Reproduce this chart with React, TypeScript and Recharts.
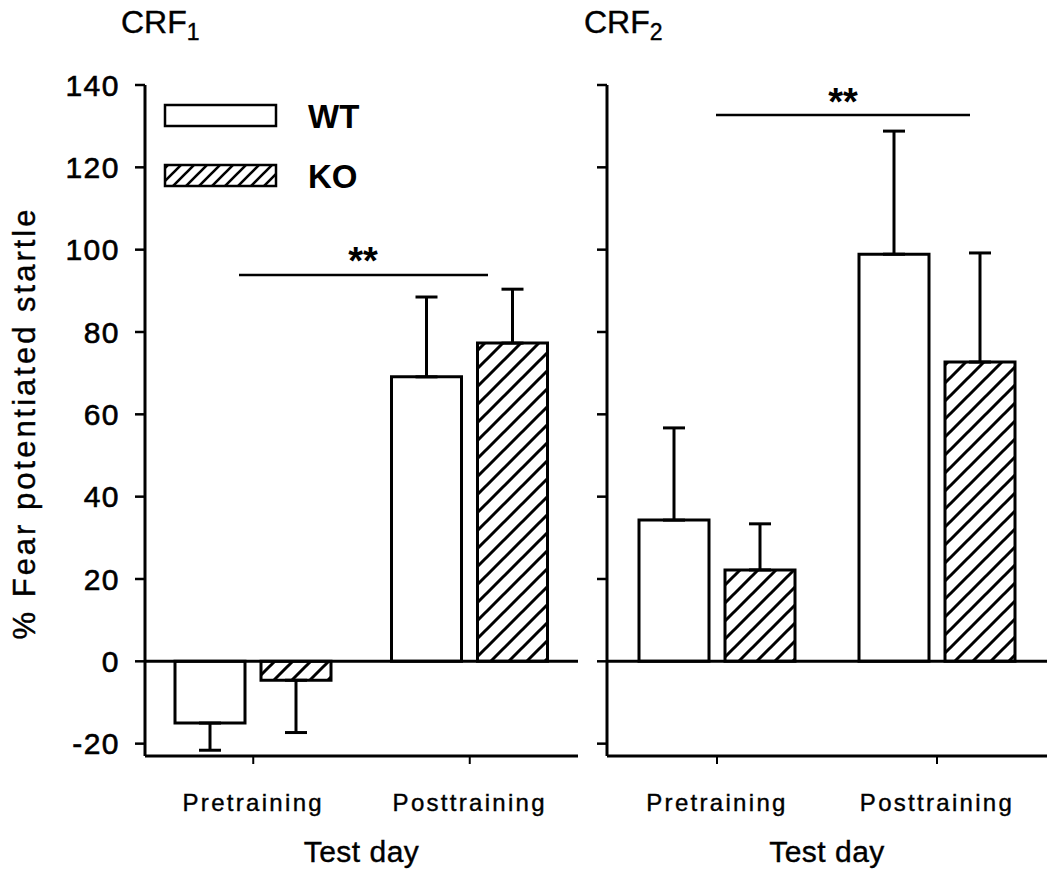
import React from 'react';
import { BarChart, Bar, XAxis, YAxis, ReferenceLine, ErrorBar, Legend } from 'recharts';

const categories = ['Pretraining', 'Posttraining'];
const seriesNames = ['WT', 'KO'];

// CRF1 panel
const crf1WT = [-15, 69.1];
const crf1KO = [-4.6, 77.3];
const crf1WTSem = [6.6, 19.4];
const crf1KOSem = [12.7, 13.1];

// CRF2 panel
const crf2WT = [34.3, 98.9];
const crf2KO = [22.2, 72.7];
const crf2WTSem = [22.4, 29.9];
const crf2KOSem = [11.2, 26.5];

const yTicks = [-20, 0, 20, 40, 60, 80, 100, 120, 140];
const yDomain = [-23, 140];

const FONT = '"Liberation Sans", Arial, Helvetica, sans-serif';

// error bars only go away from zero, like the original
const errOf = (v: number, s: number) => (v < 0 ? [s, 0] : [0, s]);

const buildRows = (wt: number[], ko: number[], wtSem: number[], koSem: number[]) =>
  categories.map((day, i) => ({
    day,
    wt: wt[i],
    ko: ko[i],
    wtErr: errOf(wt[i], wtSem[i]),
    koErr: errOf(ko[i], koSem[i]),
  }));

const crf1Rows = buildRows(crf1WT, crf1KO, crf1WTSem, crf1KOSem);
const crf2Rows = buildRows(crf2WT, crf2KO, crf2WTSem, crf2KOSem);

const HatchDefs = ({ id }: { id: string }) => (
  <defs>
    <pattern id={id} patternUnits="userSpaceOnUse" width={18} height={18}>
      <rect width={18} height={18} fill="#fff" />
      <path d="M0,18 L18,0 M-4.5,4.5 L4.5,-4.5 M13.5,22.5 L22.5,13.5" stroke="#000" strokeWidth={3} />
    </pattern>
  </defs>
);

const LegendBox = () => (
  <svg width={260} height={110}>
    <defs>
      <pattern id="hatchLegend" patternUnits="userSpaceOnUse" width={13} height={13}>
        <rect width={13} height={13} fill="#fff" />
        <path d="M0,13 L13,0 M-3.25,3.25 L3.25,-3.25 M9.75,16.25 L16.25,9.75" stroke="#000" strokeWidth={2.6} />
      </pattern>
    </defs>
    {seriesNames.map((name, i) => (
      <g key={name}>
        <rect x={5} y={10 + i * 60} width={111} height={21} fill={i === 0 ? '#fff' : 'url(#hatchLegend)'} stroke="#000" strokeWidth={2.5} />
        <text x={148} y={33 + i * 60} fontFamily={FONT} fontSize={33} fontWeight="bold" fill="#000">
          {name}
        </text>
      </g>
    ))}
  </svg>
);

const YTitle = () => (
  <text
    x={35}
    y={423}
    transform="rotate(-90, 35, 423)"
    textAnchor="middle"
    fontFamily={FONT}
    fontSize={31}
    letterSpacing={3}
    fill="#000"
    stroke="#000"
    strokeWidth={0.4}
  >
    % Fear potentiated startle
  </text>
);

const XTitle = (props: any) => {
  const vb = props.viewBox || {};
  return (
    <text x={vb.x + vb.width / 2} y={862} textAnchor="middle" fontFamily={FONT} fontSize={30} letterSpacing={0.5} fill="#000" stroke="#000" strokeWidth={0.4}>
      Test day
    </text>
  );
};

const Panel = ({ rows, hatchId, width, yWidth, right, showLabels }: any) => (
  <BarChart
    width={width}
    height={875}
    data={rows}
    margin={{ top: 85, right, bottom: 0, left: 0 }}
    barSize={70}
    barGap={16}
  >
    <HatchDefs id={hatchId} />
    <XAxis
      dataKey="day"
      height={119}
      axisLine={{ stroke: '#000', strokeWidth: 3 }}
      tickLine={{ stroke: '#000', strokeWidth: 2 }}
      tickSize={8}
      tickMargin={30}
      tick={{ fill: '#000', stroke: '#000', strokeWidth: 0.4, fontSize: 24, fontFamily: FONT, letterSpacing: 2.3 }}
      label={<XTitle />}
    />
    <YAxis
      width={yWidth}
      domain={yDomain}
      ticks={yTicks}
      allowDataOverflow
      interval={0}
      axisLine={{ stroke: '#000', strokeWidth: 3 }}
      tickLine={{ stroke: '#000', strokeWidth: 2.5 }}
      tickSize={10}
      tickMargin={15}
      tick={{ fill: '#000', stroke: '#000', strokeWidth: 0.6, fontSize: 30, fontFamily: FONT, letterSpacing: 1.5 }}
      tickFormatter={(v: number) => (showLabels ? String(v) : '')}
      label={showLabels ? <YTitle /> : undefined}
    />
    <ReferenceLine y={0} stroke="#000" strokeWidth={3} />
    <Bar dataKey="wt" name={seriesNames[0]} fill="#fff" stroke="#000" strokeWidth={3} isAnimationActive={false}>
      <ErrorBar dataKey="wtErr" direction="y" width={11} stroke="#000" strokeWidth={3} />
    </Bar>
    <Bar dataKey="ko" name={seriesNames[1]} fill={`url(#${hatchId})`} stroke="#000" strokeWidth={3} isAnimationActive={false}>
      <ErrorBar dataKey="koErr" direction="y" width={11} stroke="#000" strokeWidth={3} />
    </Bar>
    {showLabels && (
      <Legend
        layout="vertical"
        align="center"
        verticalAlign="middle"
        content={<LegendBox />}
        wrapperStyle={{ left: 160, top: 95, width: 260, height: 110 }}
      />
    )}
  </BarChart>
);

export default function App() {
  return (
    <div style={{ position: 'absolute', left: 0, top: 0, width: 1050, height: 875, background: '#fff', fontFamily: FONT }}>
      <div style={{ position: 'absolute', left: 0, top: 0 }}>
        <Panel rows={crf1Rows} hatchId="hatch1" width={590} yWidth={145} right={12} showLabels />
      </div>
      <div style={{ position: 'absolute', left: 590, top: 0 }}>
        <Panel rows={crf2Rows} hatchId="hatch2" width={460} yWidth={17} right={3} showLabels={false} />
      </div>
      <svg width={1050} height={875} style={{ position: 'absolute', left: 0, top: 0, pointerEvents: 'none' }}>
        <text x={121} y={33} fontFamily={FONT} fontSize={32} fill="#000" stroke="#000" strokeWidth={0.4}>
          CRF<tspan fontSize={23} dy={7}>1</tspan>
        </text>
        <text x={584} y={33} fontFamily={FONT} fontSize={32} fill="#000" stroke="#000" strokeWidth={0.4}>
          CRF<tspan fontSize={23} dy={7}>2</tspan>
        </text>
        <line x1={239} x2={488} y1={275} y2={275} stroke="#000" strokeWidth={2.5} />
        <text x={363} y={274} textAnchor="middle" fontFamily={FONT} fontSize={38} fontWeight="bold" fill="#000">**</text>
        <line x1={716} x2={970} y1={115} y2={115} stroke="#000" strokeWidth={2.5} />
        <text x={843} y={115} textAnchor="middle" fontFamily={FONT} fontSize={38} fontWeight="bold" fill="#000">**</text>
      </svg>
    </div>
  );
}
